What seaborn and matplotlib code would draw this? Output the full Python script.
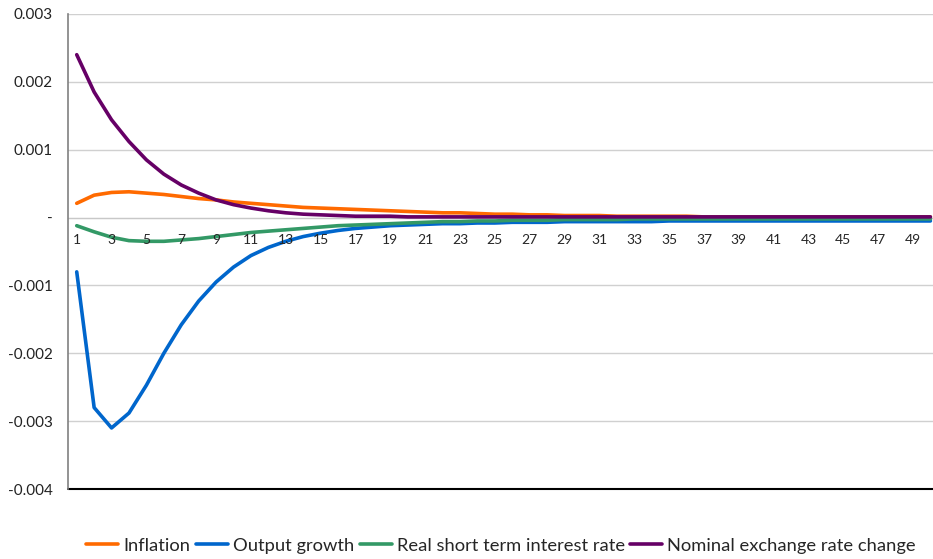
import numpy as np
import pandas as pd
import matplotlib
matplotlib.use("Agg")
import matplotlib.pyplot as plt
import seaborn as sns

periods = list(range(1, 51))

inflation = [0.00021, 0.00033, 0.00037, 0.00038, 0.00036, 0.00034, 0.00031, 0.00028, 0.00026, 0.00023,
             0.00021, 0.00019, 0.00017, 0.00015, 0.00014, 0.00013, 0.00012, 0.00011, 0.00010, 0.00009,
             0.00008, 0.00007, 0.00007, 0.00006, 0.00005, 0.00005, 0.00004, 0.00004, 0.00003, 0.00003,
             0.00003, 0.00002, 0.00002, 0.00002, 0.00002, 0.00002, 0.00001, 0.00001, 0.00001, 0.00001,
             0.00001, 0.00001, 0.00001, 0.00001, 0.00001, 0.00001, 0.00001, 0.00001, 0.00001, 0.00001]

output_growth = [-0.00080, -0.00280, -0.00310, -0.00288, -0.00247, -0.00200, -0.00158, -0.00123, -0.00095, -0.00073,
                 -0.00056, -0.00044, -0.00035, -0.00028, -0.00023, -0.00019, -0.00016, -0.00014, -0.00012, -0.00011,
                 -0.00010, -0.00009, -0.00009, -0.00008, -0.00008, -0.00007, -0.00007, -0.00007, -0.00006, -0.00006,
                 -0.00006, -0.00006, -0.00006, -0.00006, -0.00005, -0.00005, -0.00005, -0.00005, -0.00005, -0.00005,
                 -0.00005, -0.00005, -0.00005, -0.00005, -0.00005, -0.00005, -0.00005, -0.00005, -0.00005, -0.00005]

real_rate = [-0.00012, -0.00021, -0.00029, -0.00034, -0.00035, -0.00035, -0.00033, -0.00031, -0.00028, -0.00025,
             -0.00022, -0.00020, -0.00018, -0.00016, -0.00014, -0.00012, -0.00011, -0.00010, -0.00009, -0.00008,
             -0.00007, -0.00006, -0.00006, -0.00005, -0.00005, -0.00004, -0.00004, -0.00004, -0.00003, -0.00003,
             -0.00003, -0.00003, -0.00002, -0.00002, -0.00002, -0.00002, -0.00002, -0.00002, -0.00002, -0.00002,
             -0.00002, -0.00002, -0.00002, -0.00002, -0.00002, -0.00002, -0.00002, -0.00002, -0.00002, -0.00002]

exchange_rate = [0.00240, 0.00185, 0.00144, 0.00112, 0.00085, 0.00064, 0.00048, 0.00036, 0.00026, 0.00019,
                 0.00014, 0.00010, 0.00007, 0.00005, 0.00004, 0.00003, 0.00002, 0.00002, 0.00002, 0.00001,
                 0.00001, 0.00001, 0.00001, 0.00001, 0.00001, 0.00001, 0.00001, 0.00001, 0.00001, 0.00001,
                 0.00001, 0.00001, 0.00001, 0.00001, 0.00001, 0.00001, 0.00001, 0.00001, 0.00001, 0.00001,
                 0.00001, 0.00001, 0.00001, 0.00001, 0.00001, 0.00001, 0.00001, 0.00001, 0.00001, 0.00001]

series_names = ["Inflation", "Output growth", "Real short term interest rate", "Nominal exchange rate change"]
series_values = [inflation, output_growth, real_rate, exchange_rate]
colors = ["#FF6A00", "#0066CC", "#339966", "#660066"]

y_ticks = [0.003, 0.002, 0.001, 0.0, -0.001, -0.002, -0.003, -0.004]
y_tick_labels = ["0.003", "0.002", "0.001", "-", "-0.001", "-0.002", "-0.003", "-0.004"]
x_tick_values = list(range(1, 50, 2))

df = pd.concat([pd.DataFrame({"period": periods, "value": v, "series": n})
                for n, v in zip(series_names, series_values)], ignore_index=True)

sns.set_style("white")
plt.rcParams["font.family"] = ["Lato", "DejaVu Sans"]

fig = plt.figure(figsize=(9.33, 5.59), dpi=100)
ax = fig.add_axes([0.0729, 0.1252, 0.9271, 0.8498])

sns.lineplot(data=df, x="period", y="value", hue="series", hue_order=series_names,
             palette=dict(zip(series_names, colors)), linewidth=2.6, ax=ax, legend=True)

ax.set_ylim(-0.004, 0.003)
ax.set_xlim(0.5, 50.15)
ax.set_yticks(y_ticks)
ax.set_yticklabels(y_tick_labels, fontsize=11, color="#222222")
ax.tick_params(axis="y", length=0, pad=11)
for yv in y_ticks:
    if yv != -0.004:
        ax.axhline(yv, color="#D0D0D0", lw=1.0, zorder=0)

ax.set_xticks(x_tick_values)
ax.set_xticklabels([str(v) for v in x_tick_values], fontsize=10.5, color="#222222")
ax.spines["bottom"].set_position(("data", 0))
ax.spines["bottom"].set_color("#C8C8C8")
ax.spines["bottom"].set_zorder(0.5)
ax.xaxis.set_zorder(5)
ax.tick_params(axis="x", length=0, pad=12)
ax.spines["top"].set_visible(False)
ax.spines["right"].set_visible(False)
ax.spines["left"].set_color("#808080")
ax.spines["left"].set_linewidth(1.2)
ax.axhline(-0.004, color="black", lw=1.5, clip_on=False)
ax.set_xlabel("")
ax.set_ylabel("")

handles, labels = ax.get_legend_handles_labels()
ax.get_legend().remove()
fig.legend(handles, labels, loc="lower center", bbox_to_anchor=(0.537, -0.02), ncol=4, frameon=False,
           fontsize=13.2, handlelength=1.75, handletextpad=0.27, columnspacing=0.3)

fig.savefig("out.png", dpi=100)
